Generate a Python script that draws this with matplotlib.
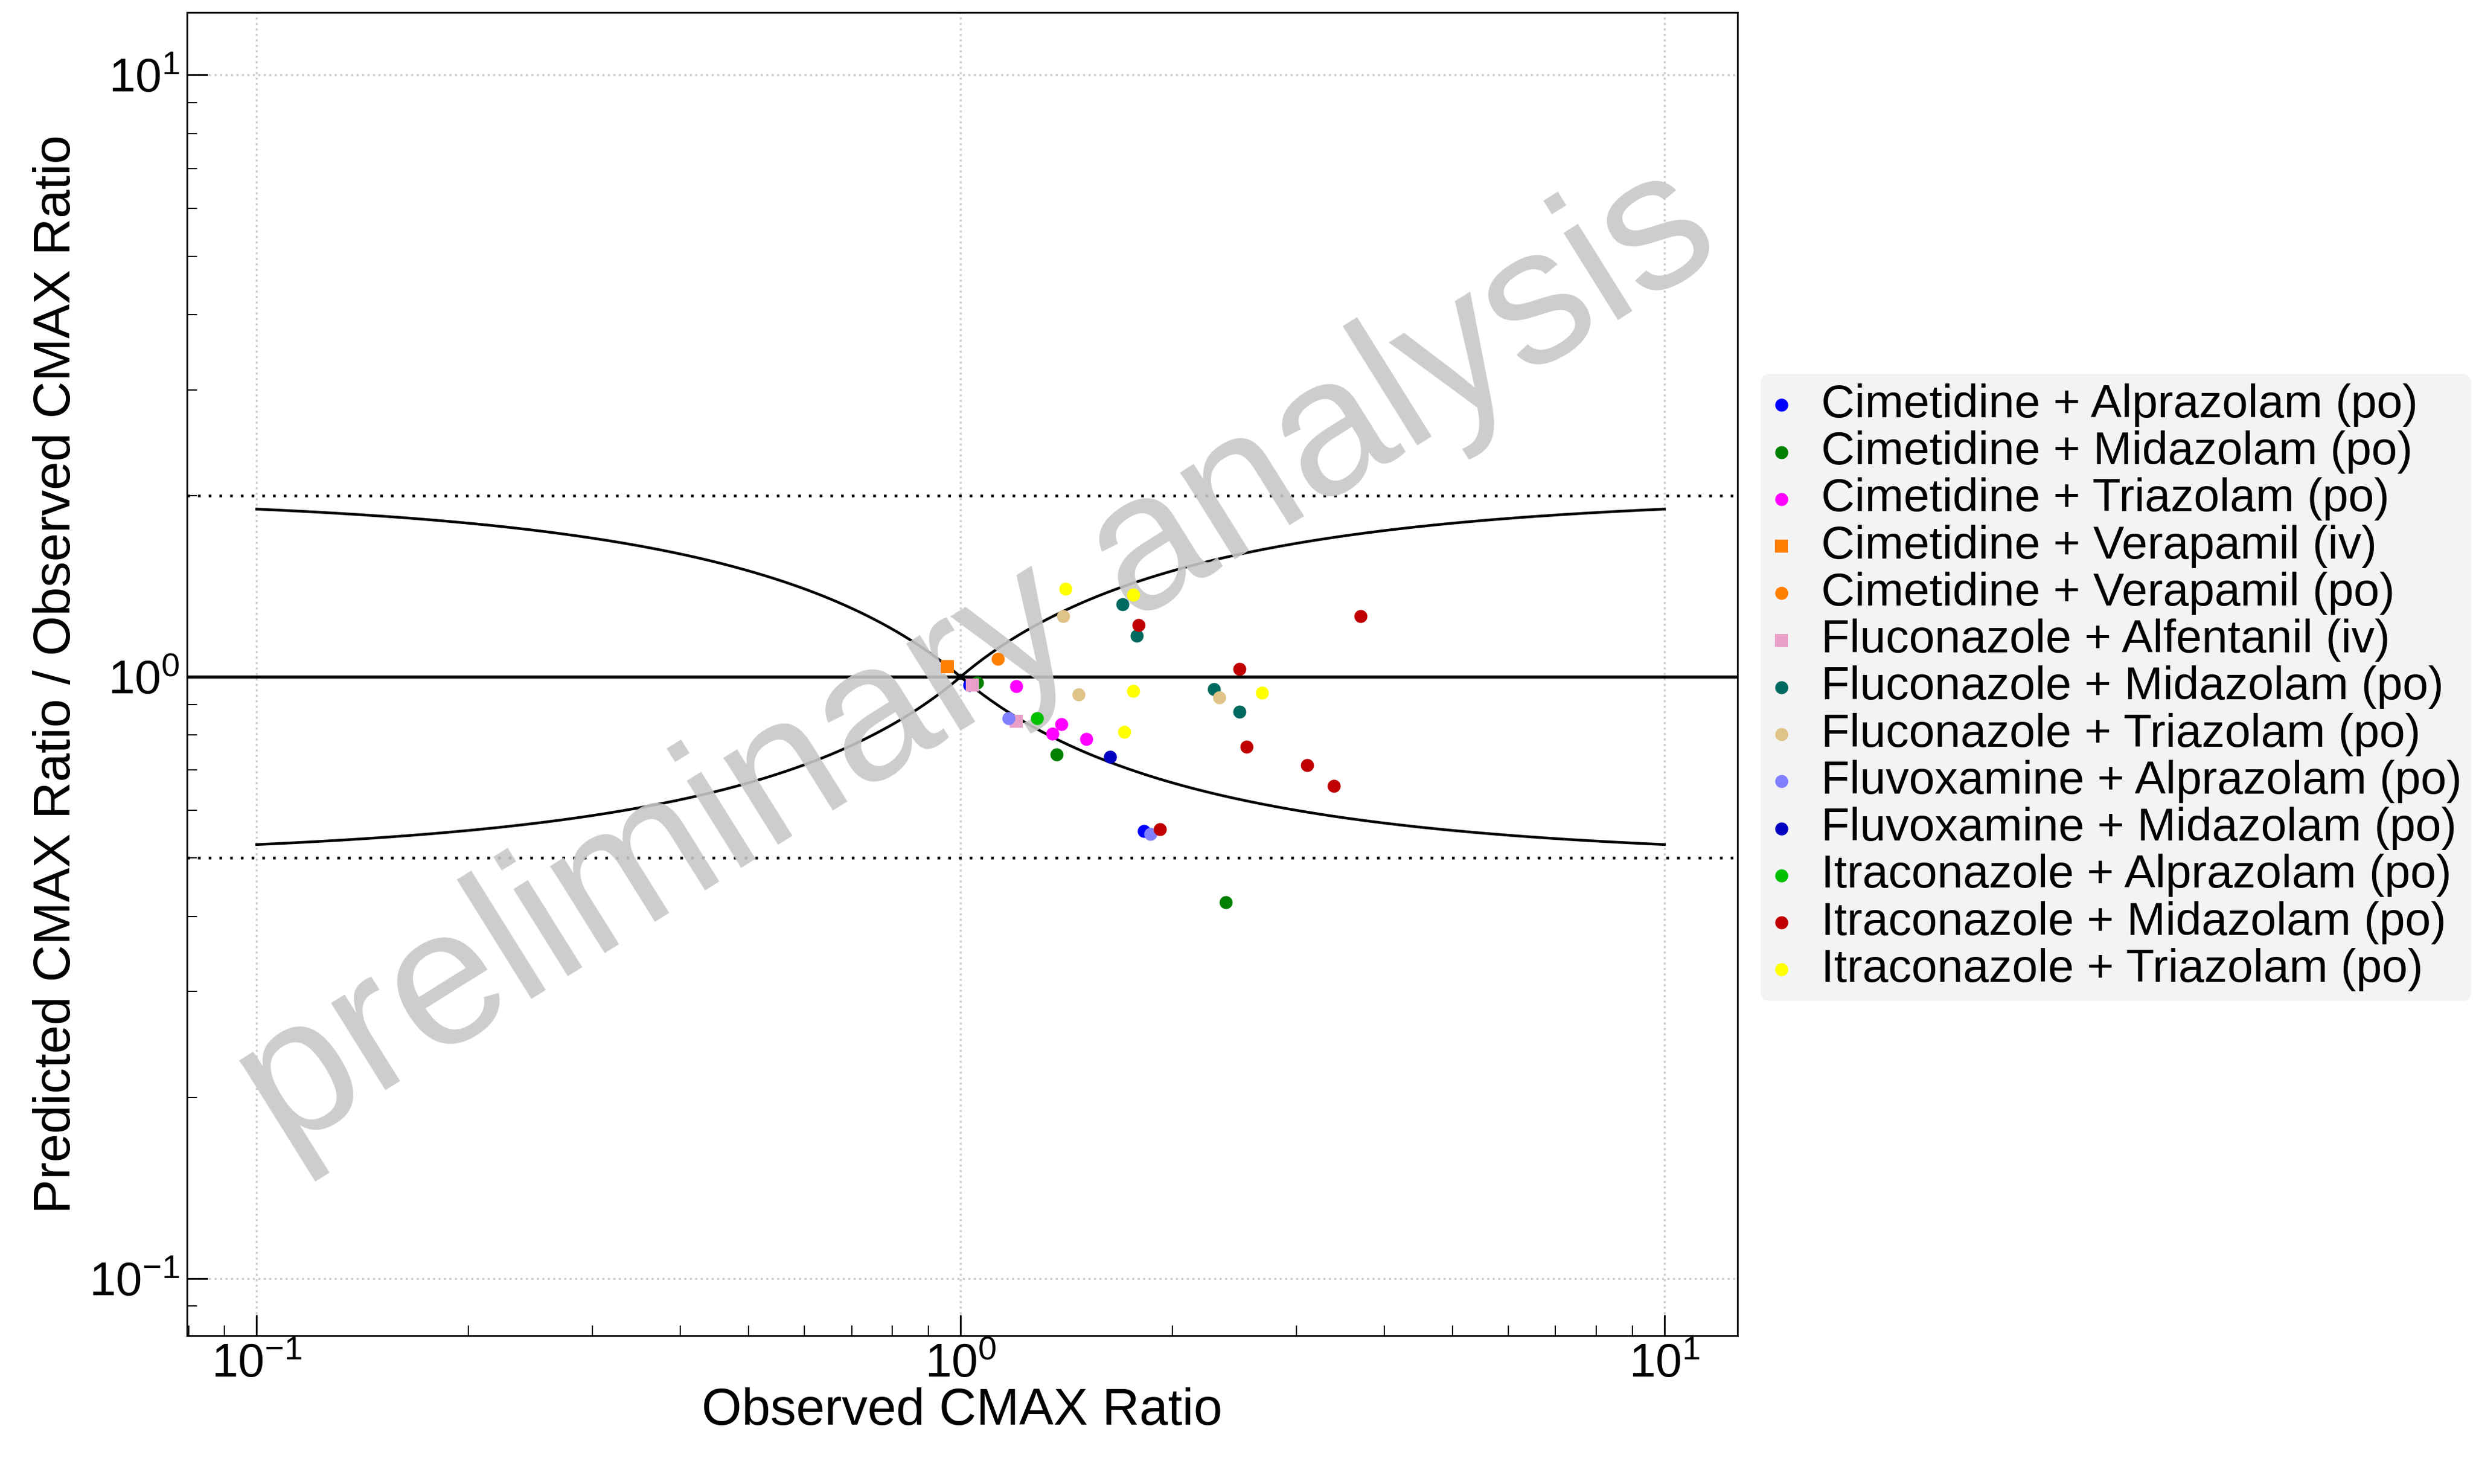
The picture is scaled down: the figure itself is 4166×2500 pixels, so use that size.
import numpy as np
import matplotlib.pyplot as plt

plt.rcParams['font.family'] = ['Liberation Sans', 'DejaVu Sans']

names = ['Cimetidine + Alprazolam (po)', 'Cimetidine + Midazolam (po)', 'Cimetidine + Triazolam (po)',
         'Cimetidine + Verapamil (iv)', 'Cimetidine + Verapamil (po)', 'Fluconazole + Alfentanil (iv)',
         'Fluconazole + Midazolam (po)', 'Fluconazole + Triazolam (po)', 'Fluvoxamine + Alprazolam (po)',
         'Fluvoxamine + Midazolam (po)', 'Itraconazole + Alprazolam (po)', 'Itraconazole + Midazolam (po)',
         'Itraconazole + Triazolam (po)']
colors = ['#0000ff', '#008000', '#ff00ff', '#ff7f00', '#ff7f00', '#e8a0c8', '#006a60', '#dfc387',
          '#8080ff', '#0000c0', '#00c000', '#c00000', '#ffff00']
markers = ['o', 'o', 'o', 's', 'o', 's', 'o', 'o', 'o', 'o', 'o', 'o', 'o']
obs = [[1.03, 1.82], [1.056, 1.37, 2.38], [1.20, 1.39, 1.35, 1.51], [0.958], [1.13], [1.04, 1.20],
       [1.70, 1.78, 2.29, 2.49], [1.40, 1.47, 2.33], [1.17, 1.86], [1.63], [1.285],
       [1.79, 3.70, 2.49, 2.55, 3.11, 3.39, 1.92], [1.41, 1.76, 1.76, 2.68, 1.71]]
pred = [[0.97, 0.554], [0.978, 0.743, 0.422], [0.964, 0.835, 0.804, 0.788], [1.04], [1.07], [0.97, 0.844],
        [1.32, 1.17, 0.953, 0.876], [1.26, 0.935, 0.925], [0.854, 0.548], [0.736], [0.854],
        [1.22, 1.26, 1.03, 0.766, 0.713, 0.659, 0.558], [1.40, 1.37, 0.948, 0.942, 0.81]]

fig = plt.figure(figsize=(16.664, 10), dpi=250)
ax = fig.add_axes([0.0756, 0.100, 0.627, 0.8915])
ax.set_xscale('log')
ax.set_yscale('log')
ax.set_xlim(0.0796, 12.7)
ax.set_ylim(0.0804, 12.7)

# Guest limits
x = np.logspace(-1, 1, 400)
r = np.where(x >= 1, x, 1 / x)
lim = (1 + 2 * (r - 1)) / r
ax.plot(x, lim, color='black', lw=1.3)
ax.plot(x, 1 / lim, color='black', lw=1.3)
ax.axhline(1, color='black', lw=1.5)
ax.axhline(2, color='black', lw=1.3, ls=(0, (1, 3)))
ax.axhline(0.5, color='black', lw=1.3, ls=(0, (1, 3)))

for n, c, m, xo, yp in zip(names, colors, markers, obs, pred):
    ax.scatter(xo, yp, color=c, marker=m, s=40, label=n, zorder=3, linewidths=0)

ax.grid(True, which='major', color='#cccccc', ls=':', lw=1)
ax.tick_params(which='both', direction='in', labelsize=23, top=False, right=False)
ax.tick_params(which='major', length=10)
ax.tick_params(which='minor', length=5)
ax.set_xlabel('Observed CMAX Ratio', fontsize=25, labelpad=0)
ax.set_ylabel('Predicted CMAX Ratio / Observed CMAX Ratio', fontsize=25, labelpad=4)

ax.text(0.51, 0.51, 'preliminary analysis', transform=ax.transAxes, fontsize=94, color='#c8c8c8',
        rotation=32, ha='center', va='center', alpha=0.9, zorder=2)

leg = ax.legend(loc='center left', bbox_to_anchor=(1.015, 0.49), fontsize=22.5, frameon=True,
                handlelength=0.5, handletextpad=0.6, borderpad=0.2, labelspacing=0.08, markerscale=1.0,
                borderaxespad=0)
leg.get_frame().set_facecolor('#f0f0f0')
leg.get_frame().set_edgecolor('none')

fig.savefig('out.png', dpi=250)
